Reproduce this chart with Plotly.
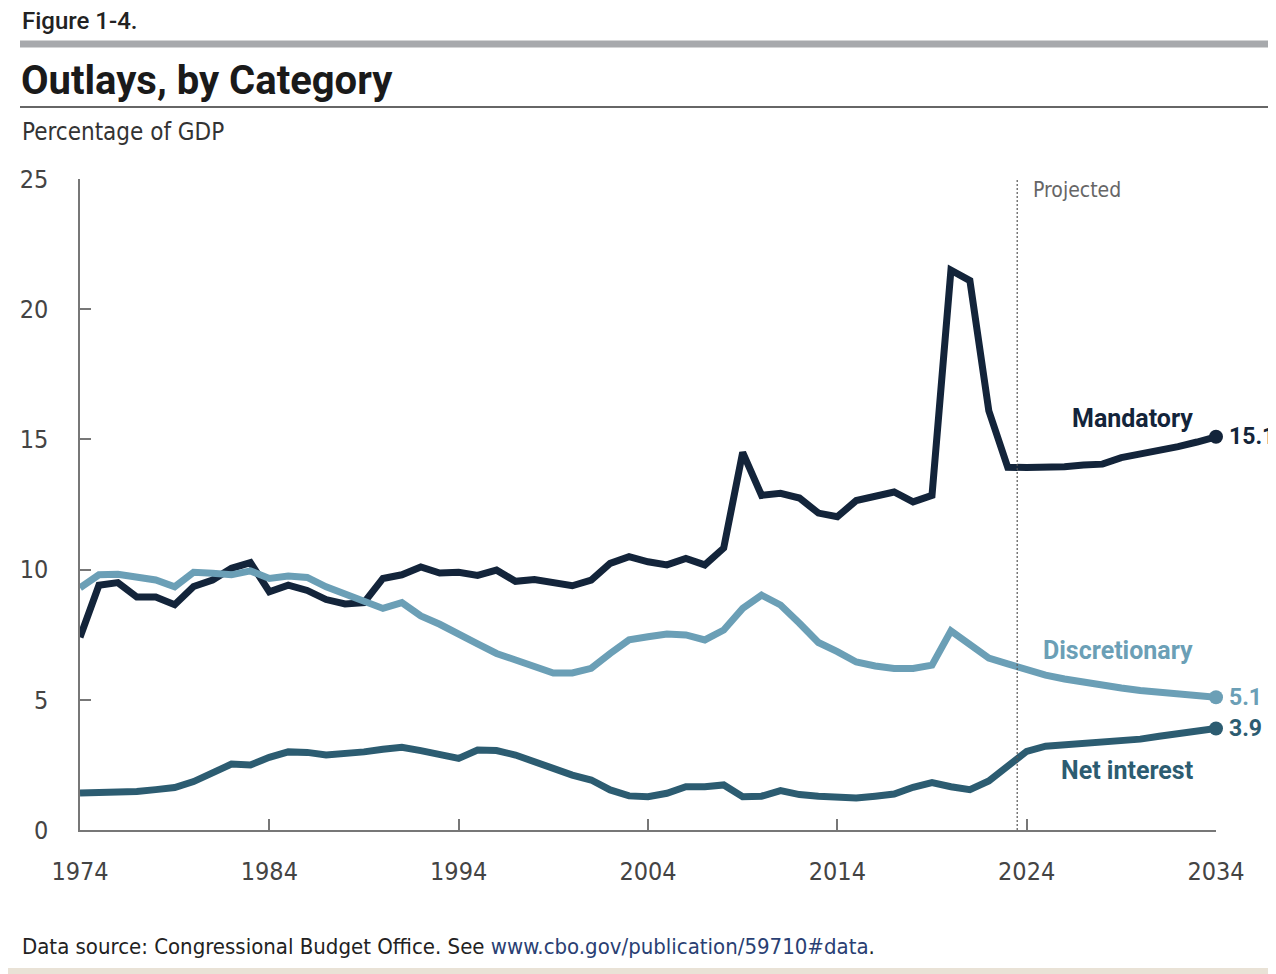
import plotly.graph_objects as go

years = list(range(1974, 2035))

mandatory = [7.4, 9.4, 9.5, 8.95, 8.95, 8.65, 9.35, 9.6, 10.05, 10.27,
             9.15, 9.4, 9.2, 8.85, 8.68, 8.73, 9.66, 9.8, 10.1, 9.87,
             9.9, 9.78, 9.98, 9.55, 9.62, 9.52, 9.38, 9.6, 10.24, 10.5,
             10.3, 10.18, 10.43, 10.18, 10.83, 14.5, 12.85, 12.93, 12.75, 12.17,
             12.03, 12.65, 12.85, 12.98, 12.6, 12.85, 21.5, 21.1, 16.1, 13.93,
             13.92, 13.93, 13.95, 14.02, 14.05, 14.3, 14.42, 14.55, 14.72, 14.9,
             15.1]

discretionary = [9.3, 9.8, 9.82, 9.73, 9.6, 9.34, 9.9, 9.86, 9.8, 9.95,
                 9.66, 9.75, 9.7, 9.34, 9.06, 8.77, 8.51, 8.73, 8.22, 7.9,
                 7.5, 7.15, 6.78, 6.53, 6.21, 6.03, 6.03, 6.21, 6.78, 7.3,
                 7.42, 7.53, 7.49, 7.3, 7.68, 8.51, 9.02, 8.64, 7.94, 7.2,
                 6.85, 6.45, 6.3, 6.2, 6.2, 6.33, 7.65, 7.15, 6.6, 6.38,
                 6.15, 5.95, 5.8, 5.67, 5.56, 5.45, 5.36, 5.28, 5.21, 5.15,
                 5.1]

net_interest = [1.42, 1.42, 1.47, 1.48, 1.55, 1.63, 1.86, 2.18, 2.53, 2.5,
                2.79, 3.0, 2.98, 2.88, 2.92, 3.0, 3.1, 3.18, 3.05, 2.9,
                2.75, 3.07, 3.05, 2.88, 2.62, 2.3, 2.11, 1.92, 1.54, 1.31,
                1.28, 1.41, 1.66, 1.66, 1.73, 1.28, 1.3, 1.51, 1.36, 1.3,
                1.29, 1.23, 1.3, 1.38, 1.64, 1.82, 1.66, 1.55, 1.88, 2.43,
                3.02, 3.22, 3.28, 3.31, 3.35, 3.41, 3.49, 3.6, 3.72, 3.83,
                3.9]

series_names = ["Mandatory", "Discretionary", "Net interest"]
series_colors = ["#13243a", "#6b9fb6", "#2c5c71"]
x_ticks = [1974, 1984, 1994, 2004, 2014, 2024, 2034]
y_ticks = [0, 5, 10, 15, 20, 25]
projection_start = 2023.5

# page offset (browser body margin)
OFF = 8
W, H = 1276 - OFF, 974 - OFF
L, R, T, B = 80 - OFF, 1276 - 1216, 179 - OFF, 974 - 830
PW, PH = W - L - R, H - T - B


def pxx(p):
    return (p - OFF - L) / PW


def pxy(p):
    return (H - B - (p - OFF)) / PH


FONT = "Roboto, Lato, Liberation Sans, sans-serif"
NARROW = "Liberation Sans Narrow, DejaVu Sans Condensed, Roboto, sans-serif"

fig = go.Figure()
all_series = [mandatory, discretionary, net_interest]
for name, vals, col in zip(series_names, all_series, series_colors):
    fig.add_trace(go.Scatter(x=years, y=vals, mode="lines", name=name,
                             line=dict(color=col, width=7),
                             hoverinfo="skip"))
    fig.add_trace(go.Scatter(x=[years[-1]], y=[vals[-1]], mode="markers",
                             marker=dict(color=col, size=14), cliponaxis=False,
                             hoverinfo="skip"))

# projected divider
fig.add_shape(type="line", xref="x", yref="y", x0=projection_start, x1=projection_start,
              y0=0, y1=25, line=dict(color="#555555", width=1.2, dash="2px,2px"))

annotations = [
    dict(text="Projected", x=projection_start, y=25, xref="x", yref="y",
         xanchor="left", yanchor="middle", xshift=14, yshift=-11, showarrow=False,
         font=dict(family=NARROW, size=21, color="#666666")),
    dict(text="Mandatory", x=2032.9, y=15.82, xref="x", yref="y", xanchor="right",
         yanchor="middle", showarrow=False,
         font=dict(family=FONT, size=25, color=series_colors[0], weight="bold")),
    dict(text="Discretionary", x=2032.9, y=6.91, xref="x", yref="y", xanchor="right",
         yanchor="middle", showarrow=False,
         font=dict(family=FONT, size=25, color=series_colors[1], weight="bold")),
    dict(text="Net interest", x=2032.9, y=2.3, xref="x", yref="y", xanchor="right",
         yanchor="middle", showarrow=False,
         font=dict(family=FONT, size=25, color=series_colors[2], weight="bold")),
]
for vals, col in zip(all_series, series_colors):
    annotations.append(dict(text=f"{vals[-1]:.1f}", x=years[-1], y=vals[-1], xref="x", yref="y",
                            xanchor="left", yanchor="middle", xshift=11, showarrow=False,
                            font=dict(family=FONT, size=23, color=col, weight="bold")))

# header / footer texts
annotations += [
    dict(text="Figure 1-4.", x=pxx(20), y=pxy(21), xref="paper", yref="paper",
         xanchor="left", yanchor="middle", showarrow=False,
         font=dict(family=FONT, size=24, color="#222222", weight=500)),
    dict(text="<b>Outlays, by Category</b>", x=pxx(19), y=pxy(80), xref="paper", yref="paper",
         xanchor="left", yanchor="middle", showarrow=False,
         font=dict(family=FONT, size=40, color="#1a1a1a")),
    dict(text="Percentage of GDP", x=pxx(20), y=pxy(132), xref="paper", yref="paper",
         xanchor="left", yanchor="middle", showarrow=False,
         font=dict(family=NARROW, size=24, color="#333333")),
    dict(text="Data source: Congressional Budget Office. See "
              "<span style='color:#2a3f73'>www.cbo.gov/publication/59710#data</span>.",
         x=pxx(20), y=pxy(946), xref="paper", yref="paper",
         xanchor="left", yanchor="middle", showarrow=False,
         font=dict(family=NARROW, size=22, color="#222222")),
]

shapes = [
    dict(type="line", xref="paper", yref="paper", x0=pxx(20), x1=pxx(1276),
         y0=pxy(44), y1=pxy(44), line=dict(color="#a7a9ac", width=7)),
    dict(type="line", xref="paper", yref="paper", x0=pxx(20), x1=pxx(1276),
         y0=pxy(107), y1=pxy(107), line=dict(color="#333333", width=1.5)),
    dict(type="rect", xref="paper", yref="paper", x0=pxx(0), x1=pxx(1276),
         y0=pxy(974), y1=pxy(968), line=dict(width=0), fillcolor="#e9e2d6"),
]
for s in shapes:
    fig.add_shape(**s)

fig.update_layout(
    width=W, height=H,
    margin=dict(l=L, r=R, t=T, b=B, autoexpand=False),
    paper_bgcolor="white", plot_bgcolor="white",
    showlegend=False,
    annotations=annotations,
    xaxis=dict(range=[1974, 2034], tickvals=x_ticks, ticks="inside", ticklen=11,
               tickcolor="#777777", tickwidth=1.5, showline=True, linecolor="#777777",
               linewidth=1.5, showgrid=False, zeroline=False, ticklabelstandoff=18,
               tickfont=dict(family=NARROW, size=25, color="#444444")),
    yaxis=dict(range=[0, 25], tickvals=y_ticks, ticks="inside", ticklen=11,
               tickcolor="#777777", tickwidth=1.5, showline=True, linecolor="#777777",
               linewidth=1.5, showgrid=False, zeroline=False, ticklabelstandoff=25,
               tickfont=dict(family=NARROW, size=25, color="#444444")),
)

fig.write_html("out.html")
